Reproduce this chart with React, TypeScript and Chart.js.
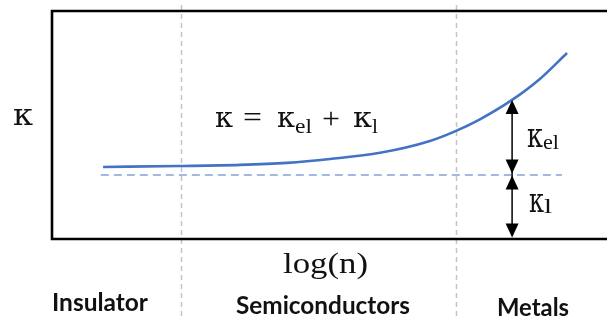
import React, { useEffect, useRef } from "react";
import { Chart, registerables } from "chart.js";

Chart.register(...registerables);

// log(n) positions and total thermal conductivity κ (arbitrary units)
const logN = [0.92, 2.31, 3.39, 4.23, 5.01, 5.91, 6.81, 7.26, 7.71, 8.29, 8.79, 9.28];
const kappa = [3.16, 3.2, 3.25, 3.34, 3.51, 3.78, 4.3, 4.72, 5.25, 6.1, 7.02, 8.16];
// lattice contribution κl (constant)
const latticeX = [0.88, 9.19];
const latticeK = [2.81, 2.81];
// regime boundaries on log(n)
const boundaries = [2.32, 7.28];
const regimes = ["Insulator", "Semiconductors", "Metals"];
// position of the decomposition arrows
const arrowIndex = 9;

function fitText(ctx: CanvasRenderingContext2D, s: string, x: number, base: number, font: string, w: number, color = "#111") {
  ctx.save();
  ctx.font = font;
  ctx.fillStyle = color;
  ctx.textAlign = "left";
  ctx.textBaseline = "alphabetic";
  const m = ctx.measureText(s).width;
  ctx.translate(x, base);
  ctx.scale(w / m, 1);
  ctx.fillText(s, 0, 0);
  ctx.restore();
}

function tri(ctx: CanvasRenderingContext2D, x: number, tip: number, up: boolean) {
  const h = 14, hw = 6.5;
  ctx.beginPath();
  ctx.moveTo(x, tip);
  ctx.lineTo(x - hw, up ? tip + h : tip - h);
  ctx.lineTo(x + hw, up ? tip + h : tip - h);
  ctx.closePath();
  ctx.fill();
}

const decor = {
  id: "decor",
  beforeDatasetsDraw(chart: any) {
    const ctx = chart.ctx as CanvasRenderingContext2D;
    const xs = chart.scales.x;
    ctx.save();
    ctx.strokeStyle = "#c4c4c4";
    ctx.lineWidth = 1.5;
    ctx.setLineDash([5, 4]);
    boundaries.forEach((b) => {
      const px = Math.round(xs.getPixelForValue(b)) + 0.5;
      ctx.beginPath();
      ctx.moveTo(px, 5);
      ctx.lineTo(px, 320);
      ctx.stroke();
    });
    ctx.restore();
  },
  afterDatasetsDraw(chart: any) {
    const ctx = chart.ctx as CanvasRenderingContext2D;
    const xs = chart.scales.x;
    const ys = chart.scales.y;
    const a = chart.chartArea;
    ctx.save();
    // frame
    ctx.strokeStyle = "#000";
    ctx.lineWidth = 2.6;
    ctx.beginPath();
    ctx.moveTo(a.right + 5, a.top);
    ctx.lineTo(a.left, a.top);
    ctx.lineTo(a.left, a.bottom);
    ctx.lineTo(a.right + 5, a.bottom);
    ctx.stroke();

    // arrows
    const ax = xs.getPixelForValue(logN[arrowIndex]);
    const yTop = ys.getPixelForValue(kappa[arrowIndex]);
    const yMid = ys.getPixelForValue(latticeK[0]);
    const yBot = ys.getPixelForValue(0) - 1.5;
    ctx.fillStyle = "#000";
    ctx.lineWidth = 1.5;
    ctx.beginPath();
    ctx.moveTo(ax, yTop + 4);
    ctx.lineTo(ax, yBot - 4);
    ctx.stroke();
    tri(ctx, ax, yTop, true);
    tri(ctx, ax, yMid - 1.5, false);
    tri(ctx, ax, yMid + 0.5, true);
    tri(ctx, ax, yBot, false);
    ctx.restore();

    // texts
    const serif = "'Liberation Serif', 'DejaVu Serif', serif";
    const kfont = "'DejaVu Serif', serif";
    fitText(ctx, "κ", 13, 125, `29px ${kfont}`, 20);
    // equation
    fitText(ctx, "κ", 215, 127, `27px ${kfont}`, 18);
    fitText(ctx, "=", 243, 127, `30px ${serif}`, 19);
    fitText(ctx, "κ", 277, 127, `27px ${kfont}`, 18);
    fitText(ctx, "el", 295, 133, `22px ${serif}`, 17);
    fitText(ctx, "+", 322, 128, `30px ${serif}`, 18);
    fitText(ctx, "κ", 353, 127, `27px ${kfont}`, 19);
    fitText(ctx, "l", 372, 133, `22px ${serif}`, 6);
    // side labels
    fitText(ctx, "κ", 527, 147, `33px ${kfont}`, 16);
    fitText(ctx, "el", 543, 149, `22px ${serif}`, 16);
    fitText(ctx, "κ", 529, 212, `33px ${kfont}`, 15);
    fitText(ctx, "l", 544, 213, `22px ${serif}`, 8);
    // axis title
    fitText(ctx, "log(n)", 283, 273, `30px ${serif}`, 85);
    // regimes
    const sans = "bold 25px Lato, 'Open Sans', sans-serif";
    fitText(ctx, regimes[0], 52, 311, sans, 96, "#111");
    fitText(ctx, regimes[1], 236, 314, sans, 174, "#111");
    fitText(ctx, regimes[2], 497, 316, sans, 72, "#111");
  },
};

export default function App() {
  const ref = useRef<HTMLCanvasElement>(null);
  useEffect(() => {
    const chart = new Chart(ref.current!, {
      type: "line",
      data: {
        datasets: [
          {
            data: logN.map((x, i) => ({ x, y: kappa[i] })),
            borderColor: "#4472c4",
            borderWidth: 2.6,
            pointRadius: 0,
            cubicInterpolationMode: "monotone",
            fill: false,
          },
          {
            data: latticeX.map((x, i) => ({ x, y: latticeK[i] })),
            borderColor: "#85a3d9",
            borderWidth: 1.6,
            borderDash: [8, 5],
            pointRadius: 0,
            fill: false,
          },
        ],
      },
      options: {
        animation: false,
        responsive: false,
        events: [],
        layout: { padding: { left: 52, top: 11, right: 0, bottom: 81 } },
        plugins: { legend: { display: false }, tooltip: { enabled: false } },
        scales: {
          x: { type: "linear", min: 0, max: 10, display: false },
          y: { type: "linear", min: 0, max: 10, display: false },
        },
      },
      plugins: [decor],
    });
    return () => chart.destroy();
  }, []);
  return (
    <div style={{ position: "fixed", left: 0, top: 0, width: 607, height: 320, background: "#fff" }}>
      <canvas ref={ref} width={607} height={320} style={{ display: "block" }} />
    </div>
  );
}
